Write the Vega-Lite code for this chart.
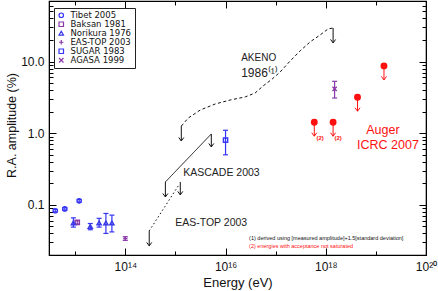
{
  "$schema": "https://vega.github.io/schema/vega-lite/v6.json",
  "width": 377,
  "height": 254,
  "autosize": {"type": "none"},
  "padding": {"left": 49, "top": 1, "right": 12, "bottom": 36},
  "background": "white",
  "config": {
    "font": "Liberation Sans",
    "view": {"stroke": "black", "strokeWidth": 1.2},
    "axis": {"domainColor": "black", "tickColor": "black", "labelColor": "#111", "titleColor": "#111", "grid": false, "labelFlush": false, "labelOverlap": false, "labelBound": false, "titleFontWeight": "normal"}
  },
  "datasets": {
    "pts": [
      {"series": "Tibet 2005", "e": 4.0e12, "a": 0.083, "lo": 0.0795, "hi": 0.0865},
      {"series": "Tibet 2005", "e": 6.2e12, "a": 0.088, "lo": 0.0845, "hi": 0.0915},
      {"series": "Tibet 2005", "e": 1.2e13, "a": 0.114, "lo": 0.109, "hi": 0.119},
      {"series": "Baksan 1981", "e": 1.1e13, "a": 0.057, "lo": 0.054, "hi": 0.060},
      {"series": "Norikura 1976", "e": 9.2e12, "a": 0.056, "lo": 0.049, "hi": 0.066},
      {"series": "Norikura 1976", "e": 2.0e13, "a": 0.050, "lo": 0.045, "hi": 0.055},
      {"series": "Norikura 1976", "e": 3.0e13, "a": 0.056, "lo": 0.049, "hi": 0.065},
      {"series": "Norikura 1976", "e": 4.1e13, "a": 0.056, "lo": 0.040, "hi": 0.076},
      {"series": "Norikura 1976", "e": 5.4e13, "a": 0.056, "lo": 0.042, "hi": 0.072},
      {"series": "EAS-TOP 2003", "e": 1.0e14, "a": 0.034, "lo": 0.032, "hi": 0.036},
      {"series": "SUGAR 1983", "e": 1.0e16, "a": 0.80, "lo": 0.50, "hi": 1.10},
      {"series": "AGASA 1999", "e": 1.5e18, "a": 4.15, "lo": 3.1, "hi": 5.3}
    ],
    "curves": [
      {"curve": "AKENO", "e": 1.31e15, "a": 1.26},
      {"curve": "AKENO", "e": 1.80e15, "a": 1.63},
      {"curve": "AKENO", "e": 3.13e15, "a": 2.11},
      {"curve": "AKENO", "e": 6.22e15, "a": 2.56},
      {"curve": "AKENO", "e": 1.24e16, "a": 2.91},
      {"curve": "AKENO", "e": 2.47e16, "a": 3.21},
      {"curve": "AKENO", "e": 3.90e16, "a": 3.65},
      {"curve": "AKENO", "e": 5.63e16, "a": 4.57},
      {"curve": "AKENO", "e": 8.51e16, "a": 5.71},
      {"curve": "AKENO", "e": 1.23e17, "a": 7.16},
      {"curve": "AKENO", "e": 1.95e17, "a": 10.2},
      {"curve": "AKENO", "e": 3.08e17, "a": 14.1},
      {"curve": "AKENO", "e": 4.87e17, "a": 18.8},
      {"curve": "AKENO", "e": 7.70e17, "a": 23.5},
      {"curve": "AKENO", "e": 1.11e18, "a": 28.5},
      {"curve": "AKENO", "e": 1.40e18, "a": 29.4},
      {"curve": "KASCADE", "e": 6.3e14, "a": 0.209},
      {"curve": "KASCADE", "e": 5.2e15, "a": 0.977},
      {"curve": "EAS-TOP", "e": 3.0e14, "a": 0.0434},
      {"curve": "EAS-TOP", "e": 1.2e15, "a": 0.195}
    ],
    "arrows": [
      {"source": "AKENO", "e": 1.31e15, "from": 1.26, "to": 0.78},
      {"source": "AKENO", "e": 1.40e18, "from": 29.4, "to": 18.2},
      {"source": "KASCADE", "e": 6.3e14, "from": 0.209, "to": 0.129},
      {"source": "KASCADE", "e": 5.2e15, "from": 0.977, "to": 0.644},
      {"source": "EAS-TOP", "e": 3.0e14, "from": 0.0434, "to": 0.0268},
      {"source": "EAS-TOP", "e": 1.25e15, "from": 0.209, "to": 0.138},
      {"source": "Auger", "e": 5.9e17, "from": 1.42, "to": 0.91},
      {"source": "Auger", "e": 1.4e18, "from": 1.42, "to": 0.91},
      {"source": "Auger", "e": 4.3e18, "from": 3.18, "to": 2.03},
      {"source": "Auger", "e": 1.45e19, "from": 8.7, "to": 5.55}
    ]
  },
  "layer": [
    {
      "data": {"name": "pts"},
      "mark": {"type": "point", "opacity": 0},
      "encoding": {
        "x": {"field": "e", "type": "quantitative", "scale": {"type": "log", "domain": [3e12, 1e20]},
          "axis": {"orient": "bottom", "values": [1e14, 1e16, 1e18, 1e20], "tickSize": -7, "labelPadding": 13, "labelFontSize": 12,
            "labelExpr": "round(log(datum.value)/LN10) == 14 ? '10¹⁴' : round(log(datum.value)/LN10) == 16 ? '10¹⁶' : round(log(datum.value)/LN10) == 18 ? '10¹⁸' : '10²⁰'",
            "title": "Energy (eV)", "titleFontSize": 13, "titlePadding": 4}},
        "y": {"field": "a", "type": "quantitative", "scale": {"type": "log", "domain": [0.02, 70]},
          "axis": {"orient": "left", "values": [0.1, 1, 10], "tickSize": -7, "labelPadding": 12, "labelFontSize": 12, "format": ".1f",
            "title": "R.A. amplitude (%)", "titleFontSize": 12.5, "titlePadding": 2, "titleY": 124}}
      }
    },
    {
      "data": {"name": "pts"},
      "mark": {"type": "point", "opacity": 0},
      "encoding": {
        "x": {"field": "e", "type": "quantitative", "scale": {"type": "log", "domain": [3e12, 1e20]},
          "axis": {"orient": "bottom", "values": [1e13, 1e15, 1e17, 1e19], "tickSize": -4, "labels": false, "domain": false, "title": null}},
        "y": {"field": "a", "type": "quantitative", "scale": {"type": "log", "domain": [0.02, 70]},
          "axis": {"orient": "left", "values": [0.02, 0.03, 0.04, 0.05, 0.06, 0.07, 0.08, 0.09, 0.2, 0.3, 0.4, 0.5, 0.6, 0.7, 0.8, 0.9, 2, 3, 4, 5, 6, 7, 8, 9, 20, 30, 40, 50, 60, 70], "tickSize": -4, "labels": false, "domain": false, "title": null}}
      }
    },
    {
      "data": {"name": "pts"},
      "mark": {"type": "point", "opacity": 0},
      "encoding": {
        "x": {"field": "e", "type": "quantitative", "scale": {"type": "log", "domain": [3e12, 1e20]},
          "axis": {"orient": "top", "values": [1e14, 1e16, 1e18, 1e20], "tickSize": -7, "labels": false, "title": null}},
        "y": {"field": "a", "type": "quantitative", "scale": {"type": "log", "domain": [0.02, 70]},
          "axis": {"orient": "right", "values": [0.1, 1, 10], "tickSize": -7, "labels": false, "title": null}}
      }
    },
    {
      "data": {"name": "pts"},
      "mark": {"type": "point", "opacity": 0},
      "encoding": {
        "x": {"field": "e", "type": "quantitative", "scale": {"type": "log", "domain": [3e12, 1e20]},
          "axis": {"orient": "top", "values": [1e13, 1e15, 1e17, 1e19], "tickSize": -4, "labels": false, "domain": false, "title": null}},
        "y": {"field": "a", "type": "quantitative", "scale": {"type": "log", "domain": [0.02, 70]},
          "axis": {"orient": "right", "values": [0.02, 0.03, 0.04, 0.05, 0.06, 0.07, 0.08, 0.09, 0.2, 0.3, 0.4, 0.5, 0.6, 0.7, 0.8, 0.9, 2, 3, 4, 5, 6, 7, 8, 9, 20, 30, 40, 50, 60, 70], "tickSize": -4, "labels": false, "domain": false, "title": null}}
      }
    },
    {
      "data": {"name": "curves"},
      "mark": {"type": "line", "color": "#111", "strokeWidth": 1},
      "encoding": {
        "x": {"field": "e", "type": "quantitative", "scale": {"type": "log", "domain": [3e12, 1e20]}, "axis": null},
        "y": {"field": "a", "type": "quantitative", "scale": {"type": "log", "domain": [0.02, 70]}, "axis": null},
        "detail": {"field": "curve"},
        "strokeDash": {"field": "curve", "scale": {"domain": ["AKENO", "KASCADE", "EAS-TOP"], "range": [[3, 2.5], [1, 0], [1.5, 2.5]]}, "legend": null}
      }
    },
    {
      "data": {"name": "arrows"},
      "transform": [{"filter": "datum.source != 'Auger'"}],
      "mark": {"type": "rule", "color": "#111", "strokeWidth": 1},
      "encoding": {
        "x": {"field": "e", "type": "quantitative", "scale": {"type": "log", "domain": [3e12, 1e20]}, "axis": null},
        "y": {"field": "from", "type": "quantitative", "scale": {"type": "log", "domain": [0.02, 70]}, "axis": null},
        "y2": {"field": "to"}
      }
    },
    {
      "data": {"name": "arrows"},
      "transform": [{"filter": "datum.source != 'Auger'"}],
      "mark": {"type": "point", "shape": "M-0.8,-1.1L0,0L0.8,-1.1", "size": 40, "filled": false, "color": "#111", "strokeWidth": 1, "opacity": 1},
      "encoding": {
        "x": {"field": "e", "type": "quantitative", "scale": {"type": "log", "domain": [3e12, 1e20]}, "axis": null},
        "y": {"field": "to", "type": "quantitative", "scale": {"type": "log", "domain": [0.02, 70]}, "axis": null}
      }
    },
    {
      "data": {"name": "arrows"},
      "transform": [{"filter": "datum.source == 'Auger'"}],
      "mark": {"type": "rule", "color": "#ff1010", "strokeWidth": 1},
      "encoding": {
        "x": {"field": "e", "type": "quantitative", "scale": {"type": "log", "domain": [3e12, 1e20]}, "axis": null},
        "y": {"field": "from", "type": "quantitative", "scale": {"type": "log", "domain": [0.02, 70]}, "axis": null},
        "y2": {"field": "to"}
      }
    },
    {
      "data": {"name": "arrows"},
      "transform": [{"filter": "datum.source == 'Auger'"}],
      "mark": {"type": "point", "shape": "M-0.8,-1.1L0,0L0.8,-1.1", "size": 40, "filled": false, "color": "#ff1010", "strokeWidth": 1, "opacity": 1},
      "encoding": {
        "x": {"field": "e", "type": "quantitative", "scale": {"type": "log", "domain": [3e12, 1e20]}, "axis": null},
        "y": {"field": "to", "type": "quantitative", "scale": {"type": "log", "domain": [0.02, 70]}, "axis": null}
      }
    },
    {
      "data": {"name": "arrows"},
      "transform": [{"filter": "datum.source == 'Auger'"}],
      "mark": {"type": "point", "shape": "circle", "size": 48, "filled": true, "color": "#ff1010", "opacity": 1},
      "encoding": {
        "x": {"field": "e", "type": "quantitative", "scale": {"type": "log", "domain": [3e12, 1e20]}, "axis": null},
        "y": {"field": "from", "type": "quantitative", "scale": {"type": "log", "domain": [0.02, 70]}, "axis": null}
      }
    },
    {
      "data": {"name": "pts"},
      "mark": {"type": "rule", "strokeWidth": 1.2},
      "encoding": {
        "x": {"field": "e", "type": "quantitative", "scale": {"type": "log", "domain": [3e12, 1e20]}, "axis": null},
        "y": {"field": "lo", "type": "quantitative", "scale": {"type": "log", "domain": [0.02, 70]}, "axis": null},
        "y2": {"field": "hi"},
        "color": {"condition": {"test": "indexof(['Baksan 1981', 'EAS-TOP 2003', 'AGASA 1999'], datum.series) >= 0", "value": "#8a3aa8"}, "value": "#3535f5"}
      }
    },
    {
      "data": {"name": "pts"},
      "mark": {"type": "rule", "strokeWidth": 1.2, "xOffset": -2.5, "x2Offset": 2.5},
      "encoding": {
        "x": {"field": "e", "type": "quantitative", "scale": {"type": "log", "domain": [3e12, 1e20]}, "axis": null},
        "x2": {"field": "e"},
        "y": {"field": "lo", "type": "quantitative", "scale": {"type": "log", "domain": [0.02, 70]}, "axis": null},
        "color": {"condition": {"test": "indexof(['Baksan 1981', 'EAS-TOP 2003', 'AGASA 1999'], datum.series) >= 0", "value": "#8a3aa8"}, "value": "#3535f5"}
      }
    },
    {
      "data": {"name": "pts"},
      "mark": {"type": "rule", "strokeWidth": 1.2, "xOffset": -2.5, "x2Offset": 2.5},
      "encoding": {
        "x": {"field": "e", "type": "quantitative", "scale": {"type": "log", "domain": [3e12, 1e20]}, "axis": null},
        "x2": {"field": "e"},
        "y": {"field": "hi", "type": "quantitative", "scale": {"type": "log", "domain": [0.02, 70]}, "axis": null},
        "color": {"condition": {"test": "indexof(['Baksan 1981', 'EAS-TOP 2003', 'AGASA 1999'], datum.series) >= 0", "value": "#8a3aa8"}, "value": "#3535f5"}
      }
    },
    {
      "data": {"name": "pts"},
      "mark": {"type": "point", "filled": false, "size": 18, "strokeWidth": 1.4, "opacity": 1},
      "encoding": {
        "x": {"field": "e", "type": "quantitative", "scale": {"type": "log", "domain": [3e12, 1e20]}, "axis": null},
        "y": {"field": "a", "type": "quantitative", "scale": {"type": "log", "domain": [0.02, 70]}, "axis": null},
        "color": {"field": "series", "type": "nominal",
          "scale": {"domain": ["Tibet 2005", "Baksan 1981", "Norikura 1976", "EAS-TOP 2003", "SUGAR 1983", "AGASA 1999"],
                    "range": ["#3535f5", "#8a3aa8", "#3a3ae8", "#8a3aa8", "#3535f5", "#8a3aa8"]},
          "legend": {"title": null, "orient": "none", "legendX": 5, "legendY": 7, "padding": 3, "strokeColor": "#222", "fillColor": "white",
            "labelFont": "DejaVu Sans", "labelFontSize": 8.5, "labelColor": "#111", "symbolSize": 20, "symbolStrokeWidth": 1.2, "rowPadding": -6, "labelOffset": 5, "cornerRadius": 0}},
        "shape": {"field": "series", "type": "nominal",
          "scale": {"domain": ["Tibet 2005", "Baksan 1981", "Norikura 1976", "EAS-TOP 2003", "SUGAR 1983", "AGASA 1999"],
                    "range": ["circle", "square", "triangle-up", "M-1,0L1,0M0,-1L0,1", "square", "M-1,-1L1,1M-1,1L1,-1"]},
          "legend": {"title": null, "orient": "none", "legendX": 5, "legendY": 7, "padding": 3, "strokeColor": "#222", "fillColor": "white",
            "labelFont": "DejaVu Sans", "labelFontSize": 8.5, "labelColor": "#111", "symbolSize": 20, "symbolStrokeWidth": 1.2, "rowPadding": -6, "labelOffset": 5, "cornerRadius": 0}}
      }
    },
    {
      "data": {"values": [
        {"t": "AKENO", "e": 2.05e16, "a": 11.2}
      ]},
      "mark": {"type": "text", "align": "left", "baseline": "middle", "fontSize": 10, "color": "#222"},
      "encoding": {
        "x": {"field": "e", "type": "quantitative", "scale": {"type": "log", "domain": [3e12, 1e20]}, "axis": null},
        "y": {"field": "a", "type": "quantitative", "scale": {"type": "log", "domain": [0.02, 70]}, "axis": null},
        "text": {"field": "t"}
      }
    },
    {
      "data": {"values": [
        {"t": "1986⁽¹⁾", "e": 2.05e16, "a": 6.9}
      ]},
      "mark": {"type": "text", "align": "left", "baseline": "middle", "fontSize": 12, "color": "#222"},
      "encoding": {
        "x": {"field": "e", "type": "quantitative", "scale": {"type": "log", "domain": [3e12, 1e20]}, "axis": null},
        "y": {"field": "a", "type": "quantitative", "scale": {"type": "log", "domain": [0.02, 70]}, "axis": null},
        "text": {"field": "t"}
      }
    },
    {
      "data": {"values": [
        {"t": "KASCADE 2003", "e": 1.43e15, "a": 0.279},
        {"t": "EAS-TOP 2003", "e": 9.9e14, "a": 0.0561}
      ]},
      "mark": {"type": "text", "align": "left", "baseline": "middle", "fontSize": 10.5, "color": "#222"},
      "encoding": {
        "x": {"field": "e", "type": "quantitative", "scale": {"type": "log", "domain": [3e12, 1e20]}, "axis": null},
        "y": {"field": "a", "type": "quantitative", "scale": {"type": "log", "domain": [0.02, 70]}, "axis": null},
        "text": {"field": "t"}
      }
    },
    {
      "data": {"values": [
        {"t": "Auger", "e": 1.38e19, "a": 1.11},
        {"t": "ICRC 2007", "e": 1.74e19, "a": 0.687}
      ]},
      "mark": {"type": "text", "align": "center", "baseline": "middle", "fontSize": 12.5, "color": "#ff1010"},
      "encoding": {
        "x": {"field": "e", "type": "quantitative", "scale": {"type": "log", "domain": [3e12, 1e20]}, "axis": null},
        "y": {"field": "a", "type": "quantitative", "scale": {"type": "log", "domain": [0.02, 70]}, "axis": null},
        "text": {"field": "t"}
      }
    },
    {
      "data": {"values": [
        {"t": "(2)", "e": 7.7e17, "a": 0.86},
        {"t": "(2)", "e": 1.76e18, "a": 0.86}
      ]},
      "mark": {"type": "text", "align": "center", "baseline": "middle", "fontSize": 6, "fontWeight": "bold", "color": "#ff1010"},
      "encoding": {
        "x": {"field": "e", "type": "quantitative", "scale": {"type": "log", "domain": [3e12, 1e20]}, "axis": null},
        "y": {"field": "a", "type": "quantitative", "scale": {"type": "log", "domain": [0.02, 70]}, "axis": null},
        "text": {"field": "t"}
      }
    },
    {
      "data": {"values": [
        {"t": "(1) derived using [measured amplitude]+1.5[standard deviation]", "e": 2.95e16, "a": 0.0347}
      ]},
      "mark": {"type": "text", "align": "left", "baseline": "middle", "fontSize": 5.5, "color": "#111"},
      "encoding": {
        "x": {"field": "e", "type": "quantitative", "scale": {"type": "log", "domain": [3e12, 1e20]}, "axis": null},
        "y": {"field": "a", "type": "quantitative", "scale": {"type": "log", "domain": [0.02, 70]}, "axis": null},
        "text": {"field": "t"}
      }
    },
    {
      "data": {"values": [
        {"t": "(2) energies with acceptance not saturated", "e": 2.95e16, "a": 0.0268}
      ]},
      "mark": {"type": "text", "align": "left", "baseline": "middle", "fontSize": 5.5, "color": "#ff1010"},
      "encoding": {
        "x": {"field": "e", "type": "quantitative", "scale": {"type": "log", "domain": [3e12, 1e20]}, "axis": null},
        "y": {"field": "a", "type": "quantitative", "scale": {"type": "log", "domain": [0.02, 70]}, "axis": null},
        "text": {"field": "t"}
      }
    }
  ],
  "resolve": {"axis": {"x": "independent", "y": "independent"}}
}
